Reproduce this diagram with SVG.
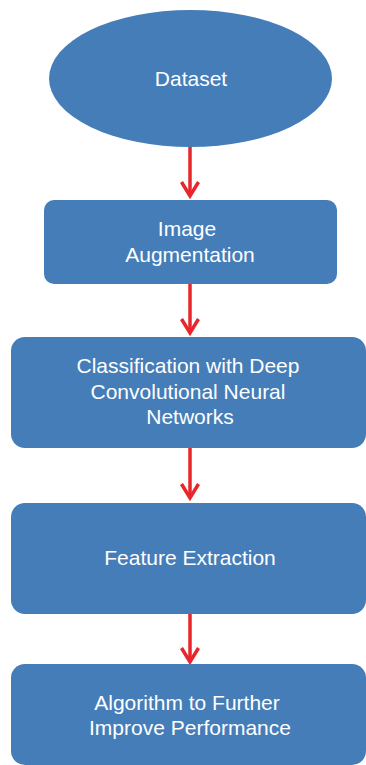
<svg xmlns="http://www.w3.org/2000/svg" width="366" height="765" viewBox="0 0 366 765">
<defs>
<style>
.n{fill:#457DB9;}
.t{fill:#ffffff;font-family:"Liberation Sans",Arial,sans-serif;font-size:21px;text-anchor:middle;}
.c{stroke:#E8262B;stroke-width:3.5;fill:none;}
.h{stroke:#E8262B;stroke-width:3.5;fill:none;stroke-linecap:butt;stroke-linejoin:miter;}
</style>
</defs>
<rect width="366" height="765" fill="#ffffff"/>
<g id="connectors">
<path class="c" d="M190 146 V196"/>
<path class="h" d="M181.5 182 L190 196 L198.5 182"/>
<path class="c" d="M190 284 V333"/>
<path class="h" d="M181.5 319 L190 333 L198.5 319"/>
<path class="c" d="M190 448 V498"/>
<path class="h" d="M181.5 484 L190 498 L198.5 484"/>
<path class="c" d="M190 614 V662"/>
<path class="h" d="M181.5 648 L190 662 L198.5 648"/>
</g>
<g id="dataset">
<ellipse class="n" cx="190.5" cy="78.5" rx="141.5" ry="68.5"/>
<text class="t" x="191" y="86">Dataset</text>
</g>
<g id="augmentation">
<rect class="n" x="44" y="200" width="293" height="84" rx="10"/>
<text class="t" x="187" y="236">Image</text>
<text class="t" x="190" y="262">Augmentation</text>
</g>
<g id="classification">
<rect class="n" x="11" y="337" width="355" height="111" rx="14"/>
<text class="t" x="188" y="373">Classification with Deep</text>
<text class="t" x="188" y="399">Convolutional Neural</text>
<text class="t" x="190" y="424">Networks</text>
</g>
<g id="feature">
<rect class="n" x="11" y="503" width="355" height="111" rx="14"/>
<text class="t" x="190" y="565">Feature Extraction</text>
</g>
<g id="algorithm">
<rect class="n" x="11" y="664" width="355" height="101" rx="14"/>
<text class="t" x="187" y="710">Algorithm to Further</text>
<text class="t" x="190" y="735">Improve Performance</text>
</g>
</svg>
